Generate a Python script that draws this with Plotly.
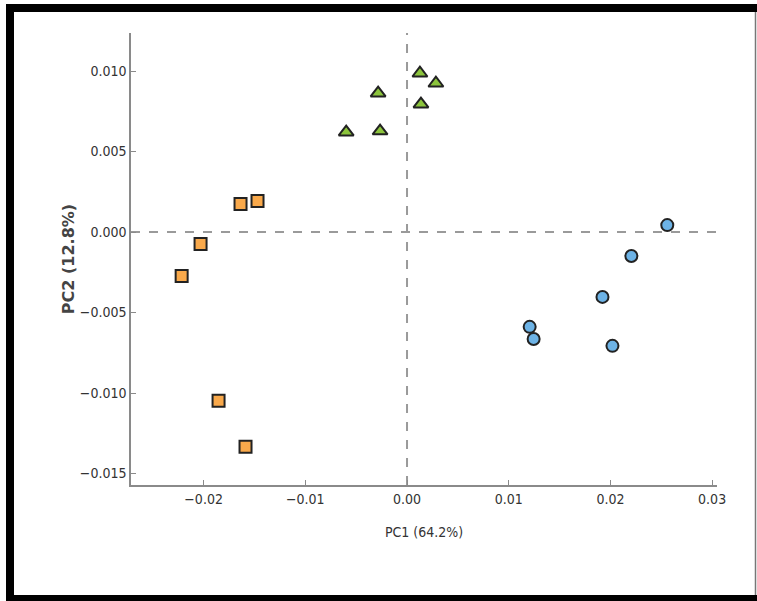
import plotly.graph_objects as go

# ---- data ----
group_a_x = [-0.02216, -0.0203, -0.01853, -0.01637, -0.01588, -0.0147]
group_a_y = [-0.00273, -0.00074, -0.01048, 0.00174, -0.01334, 0.00192]

group_b_x = [-0.00598, -0.00284, -0.00265, 0.00127, 0.00137, 0.00284]
group_b_y = [0.0062, 0.00862, 0.00627, 0.00986, 0.00794, 0.00924]

group_c_x = [0.01206, 0.01245, 0.01922, 0.0202, 0.02206, 0.02559]
group_c_y = [-0.00589, -0.00664, -0.00403, -0.00707, -0.00149, 0.00043]

x_ticks = [-0.02, -0.01, 0.0, 0.01, 0.02, 0.03]
x_ticklabels = ["\u22120.02", "\u22120.01", "0.00", "0.01", "0.02", "0.03"]
y_ticks = [-0.015, -0.010, -0.005, 0.0, 0.005, 0.010]
y_ticklabels = ["\u22120.015", "\u22120.010", "\u22120.005", "0.000", "0.005", "0.010"]

x_title = "PC1 (64.2%)"
y_title = "PC2 (12.8%)"

# ---- layout geometry (pixels) ----
W, H = 757, 601
L, R, T, B = 131, 40, 33, 116
PW, PH = W - L - R, H - T - B


def px_x(px):
    return (px - L) / PW


def px_y(py):
    return (H - B - py) / PH


fig = go.Figure()

fig.add_trace(go.Scatter(
    x=group_a_x, y=group_a_y, mode="markers", showlegend=False,
    marker=dict(symbol="square", size=12, color="#F9A94B",
                line=dict(color="#222222", width=2))))
fig.add_trace(go.Scatter(
    x=group_b_x, y=group_b_y, mode="markers", showlegend=False,
    marker=dict(symbol="triangle-up", size=13, color="#8CC43C",
                line=dict(color="#222222", width=2))))
fig.add_trace(go.Scatter(
    x=group_c_x, y=group_c_y, mode="markers", showlegend=False,
    marker=dict(symbol="circle", size=12, color="#6DB3E6",
                line=dict(color="#222222", width=2))))

shapes = [
    # dashed zero lines
    dict(type="line", xref="x", yref="paper", x0=0, x1=0, y0=0, y1=1,
         line=dict(color="#9a9a9a", width=2, dash="9px,9px"), layer="below"),
    dict(type="line", xref="paper", yref="y", x0=0, x1=1, y0=0, y1=0,
         line=dict(color="#9a9a9a", width=2, dash="9px,9px"), layer="below"),
    # black frame around the picture
    dict(type="rect", xref="paper", yref="paper", x0=px_x(6), x1=px_x(760),
         y0=px_y(12), y1=px_y(4), fillcolor="black", line=dict(width=0)),
    dict(type="rect", xref="paper", yref="paper", x0=px_x(6), x1=px_x(14),
         y0=px_y(604), y1=px_y(4), fillcolor="black", line=dict(width=0)),
    dict(type="rect", xref="paper", yref="paper", x0=px_x(6), x1=px_x(760),
         y0=px_y(604), y1=px_y(595), fillcolor="black", line=dict(width=0)),
    dict(type="line", xref="paper", yref="paper", x0=px_x(755.5), x1=px_x(755.5),
         y0=px_y(595), y1=px_y(12), line=dict(color="#777777", width=1.5)),
]

tick_font = dict(family="DejaVu Sans Condensed, DejaVu Sans, sans-serif",
                 size=14, color="#333333")

fig.update_layout(
    width=W, height=H, autosize=False,
    margin=dict(l=L, r=R, t=T, b=B, pad=0),
    paper_bgcolor="white", plot_bgcolor="white",
    shapes=shapes,
    xaxis=dict(
        range=[-0.02714, 0.03048], tickvals=x_ticks, ticktext=x_ticklabels,
        showgrid=False, zeroline=False, showline=True, linecolor="#8a8a8a",
        linewidth=1.5, ticks="inside", ticklen=5, tickcolor="#8a8a8a",
        tickwidth=1, tickfont=tick_font,
        title=dict(text=x_title, font=tick_font, standoff=22),
    ),
    yaxis=dict(
        range=[-0.01571, 0.01236], tickvals=y_ticks, ticktext=y_ticklabels,
        showgrid=False, zeroline=False, showline=True, linecolor="#8a8a8a",
        linewidth=1.5, ticks="inside", ticklen=5, tickcolor="#8a8a8a",
        tickwidth=1, tickfont=tick_font,
        title=dict(text=y_title, standoff=1,
                   font=dict(family="DejaVu Sans, sans-serif", size=16,
                             color="#444444", weight="bold")),
    ),
)

fig.write_html(
    "out.html",
    config={"displayModeBar": False},
    post_script="document.body.style.margin='0';document.body.style.overflow='hidden';",
)
